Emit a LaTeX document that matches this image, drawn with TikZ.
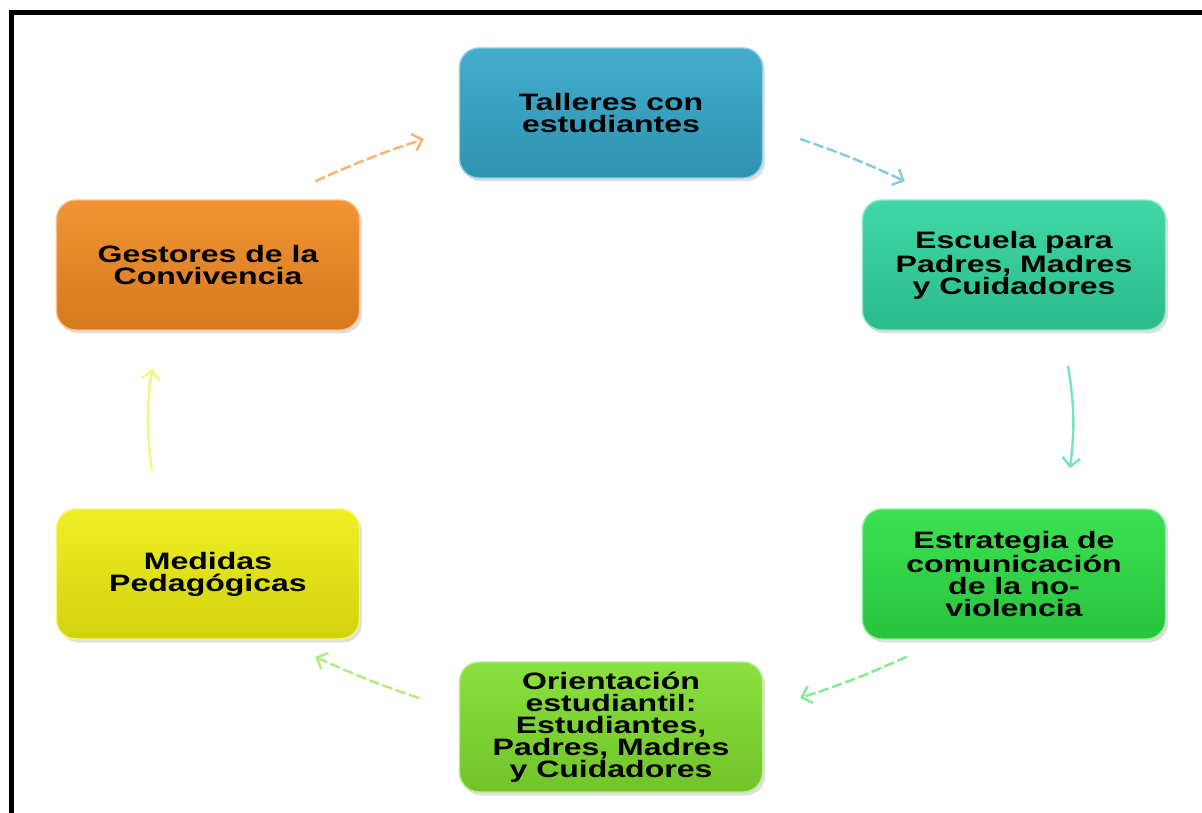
\documentclass[tikz,border=0pt]{standalone}
\usepackage{fontspec}
\newfontfamily\boxfont{Liberation Sans}[FakeStretch=1.35]
\usepackage{tikz}
\usetikzlibrary{arrows.meta,calc,shadows}
\definecolor{tallerblue}{HTML}{33A6C8}
\definecolor{escuelateal}{HTML}{30D49F}
\definecolor{estrategiagreen}{HTML}{2CDE44}
\definecolor{orientlime}{HTML}{80DE2E}
\definecolor{medidasyellow}{HTML}{EEEE10}
\definecolor{gestoresorange}{HTML}{F28A22}

\begin{document}
\begin{tikzpicture}[x=0.02cm, y=-0.02cm,
    cyclebox/.style={rounded corners=11pt, minimum width=6.06cm, minimum height=2.6cm,
        align=center, font=\boxfont\bfseries\fontsize{13.5}{12.5}\selectfont,
        top color=#1!92!white, bottom color=#1!88!black, draw=#1!55!white, line width=0.8pt,
        drop shadow={shadow xshift=1.5pt, shadow yshift=-2pt, opacity=0.25}},
    flow/.style={draw=#1, line width=1.4pt, dash pattern=on 6pt off 2pt,
        -{Straight Barb[length=5pt,width=10pt]}},
    solidflow/.style={draw=#1, line width=1.4pt, -{Straight Barb[length=5pt,width=10pt]}}]
    \useasboundingbox (0,0) rectangle (1202,813);

    % Frame
    \draw[line width=2.3pt] (11.5,813) -- (11.5,12.5) -- (1202,12.5);

    % Cycle boxes
    \node[cyclebox=tallerblue] (tal) at (611,113) {Talleres con\\estudiantes};
    \node[cyclebox=escuelateal] (esc) at (1014,265) {Escuela para\\Padres, Madres\\y Cuidadores};
    \node[cyclebox=estrategiagreen] (est) at (1014,574) {Estrategia de\\comunicación\\de la no-\\violencia};
    \node[cyclebox=orientlime] (ori) at (611,727) {Orientación\\estudiantil:\\Estudiantes,\\Padres, Madres\\y Cuidadores};
    \node[cyclebox=medidasyellow] (med) at (208,574) {Medidas\\Pedagógicas};
    \node[cyclebox=gestoresorange] (ges) at (208,265) {Gestores de la\\Convivencia};

    % Arrows
    \draw[flow=tallerblue!60!white] ($(tal.east)+(37,26)$) to[bend left=3] ($(esc.north west)+(43,-18)$);
    \draw[solidflow=escuelateal!65!white] ($(esc.south)+(54,35)$) to[bend left=8] ($(est.north)+(56,-40)$);
    \draw[flow=estrategiagreen!60!white] ($(est.south west)+(45,17)$) to[bend left=3] ($(ori.east)+(37,-29)$);
    \draw[flow=orientlime!60!white] ($(ori.west)+(-40,-29)$) to[bend left=3] ($(med.south east)+(-45,17)$);
    \draw[solidflow=medidasyellow!55!white] ($(med.north)+(-56,-38)$) to[bend left=8] ($(ges.south)+(-56,38)$);
    \draw[flow=gestoresorange!65!white] ($(ges.north east)+(-45,-18)$) to[bend left=3] ($(tal.west)+(-35,26)$);
\end{tikzpicture}
\end{document}
